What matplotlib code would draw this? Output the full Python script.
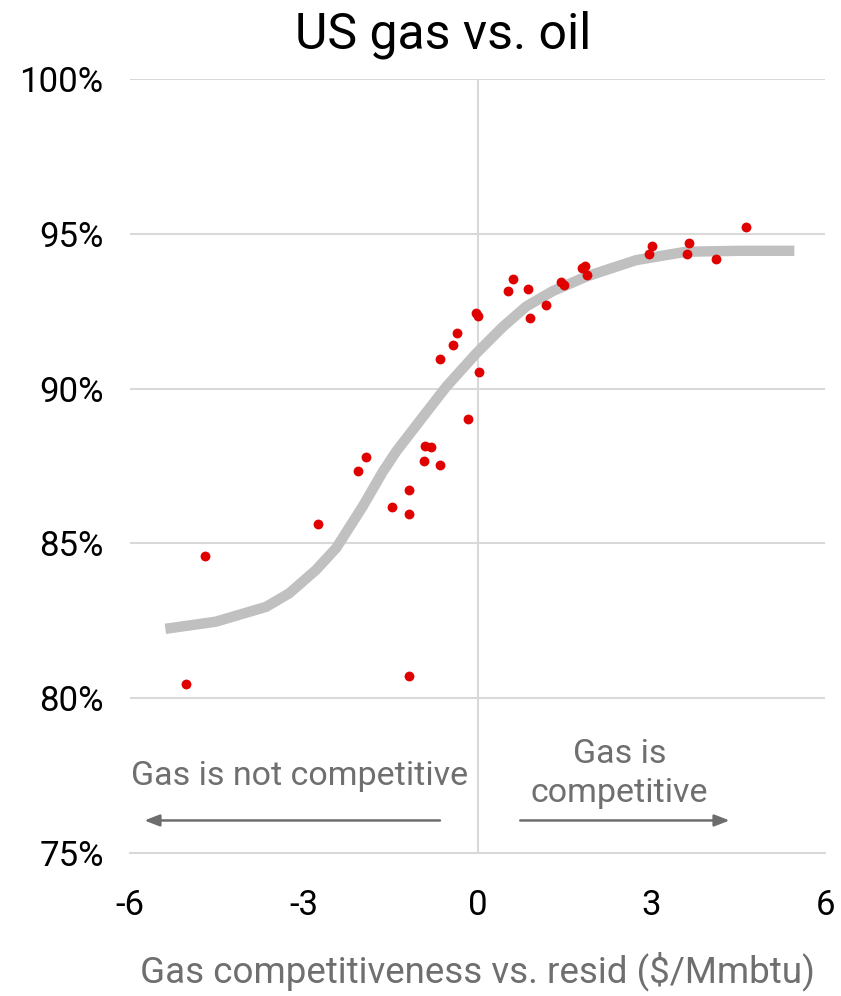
import matplotlib
matplotlib.use("Agg")
import matplotlib.pyplot as plt
from matplotlib.ticker import FuncFormatter

plt.rcParams['font.family'] = ['Roboto', 'DejaVu Sans']

# observations: gas competitiveness ($/Mmbtu) vs gas share (%)
gas_x = [-4.70, -5.04, -2.76, -2.06, -1.92, -1.47, -1.19, -1.19, -1.19, -0.93,
         -0.90, -0.81, -0.64, -0.17, -0.64, -0.43, -0.35, -0.03, 0.00, 0.03,
         0.52, 0.61, 0.87, 0.90, 1.19, 1.45, 1.49, 1.80, 1.86, 1.89,
         2.96, 3.02, 3.62, 3.65, 4.11, 4.63]
gas_share = [84.59, 80.46, 85.63, 87.34, 87.79, 86.18, 80.72, 85.95, 86.72, 87.66,
             88.15, 88.11, 87.53, 89.02, 90.96, 91.41, 91.80, 92.44, 92.35, 90.54,
             93.16, 93.53, 93.21, 92.29, 92.71, 93.43, 93.35, 93.90, 93.97, 93.68,
             94.35, 94.62, 94.35, 94.71, 94.19, 95.22]

# fitted curve
fit_x = [-5.39, -4.52, -3.65, -3.25, -2.79, -2.44, -1.98, -1.64, -1.40, -1.00,
         -0.54, -0.02, 0.44, 0.84, 1.30, 1.88, 2.74, 3.60, 4.50, 5.47]
fit_y = [82.24, 82.47, 82.95, 83.39, 84.14, 84.85, 86.20, 87.30, 87.98, 88.95,
         90.06, 91.14, 92.00, 92.65, 93.15, 93.62, 94.15, 94.42, 94.45, 94.45]

x_ticks = [-6, -3, 0, 3, 6]
y_ticks = [75, 80, 85, 90, 95, 100]

grid_c = '#d9d9d9'
txt_c = '#6f6f6f'

fig = plt.figure(figsize=(8.41, 9.96), dpi=100)
ax = fig.add_axes([0.1546, 0.1436, 0.8264, 0.7771])

ax.plot(fit_x, fit_y, color='#c0c0c0', lw=7.5, solid_capstyle='butt',
        solid_joinstyle='round', zorder=2)
ax.scatter(gas_x, gas_share, s=50, color='#e00000', zorder=3, linewidths=0)

ax.set_xlim(-6, 6)
ax.set_ylim(75, 100)
ax.set_xticks(x_ticks)
ax.set_yticks(y_ticks)
ax.yaxis.set_major_formatter(FuncFormatter(lambda v, p: f'{v:.0f}%'))
ax.xaxis.set_major_formatter(FuncFormatter(lambda v, p: f'{v:.0f}'))
ax.tick_params(length=0, labelsize=25)
ax.tick_params(axis='x', pad=26)
ax.tick_params(axis='y', pad=19)

for s in ['top', 'right', 'left']:
    ax.spines[s].set_visible(False)
ax.spines['bottom'].set_color(grid_c)
ax.spines['bottom'].set_linewidth(1.5)
for v in y_ticks[1:]:
    ax.axhline(v, color=grid_c, lw=1.5, zorder=1)
ax.axvline(0, color=grid_c, lw=1.5, zorder=1)

fig.text(0.527, 0.965, 'US gas vs. oil', fontsize=36, ha='center', va='center')
ax.set_xlabel('Gas competitiveness vs. resid ($/Mmbtu)', fontsize=26.5, color=txt_c, labelpad=21)

ax.text(-3.07, 77.49, 'Gas is not competitive', fontsize=24.5, color=txt_c, ha='center', va='center')
ax.text(2.45, 77.57, 'Gas is\ncompetitive', fontsize=24.5, color=txt_c, ha='center', va='center',
        linespacing=1.25)
arrow = dict(arrowstyle='-|>,head_length=0.9,head_width=0.35', color='#6d6d6d', lw=1.8)
ax.annotate('', xy=(-5.8, 76.05), xytext=(-0.6, 76.05), arrowprops=arrow)
ax.annotate('', xy=(4.4, 76.05), xytext=(0.69, 76.05), arrowprops=arrow)

fig.savefig('out.png', dpi=100)
